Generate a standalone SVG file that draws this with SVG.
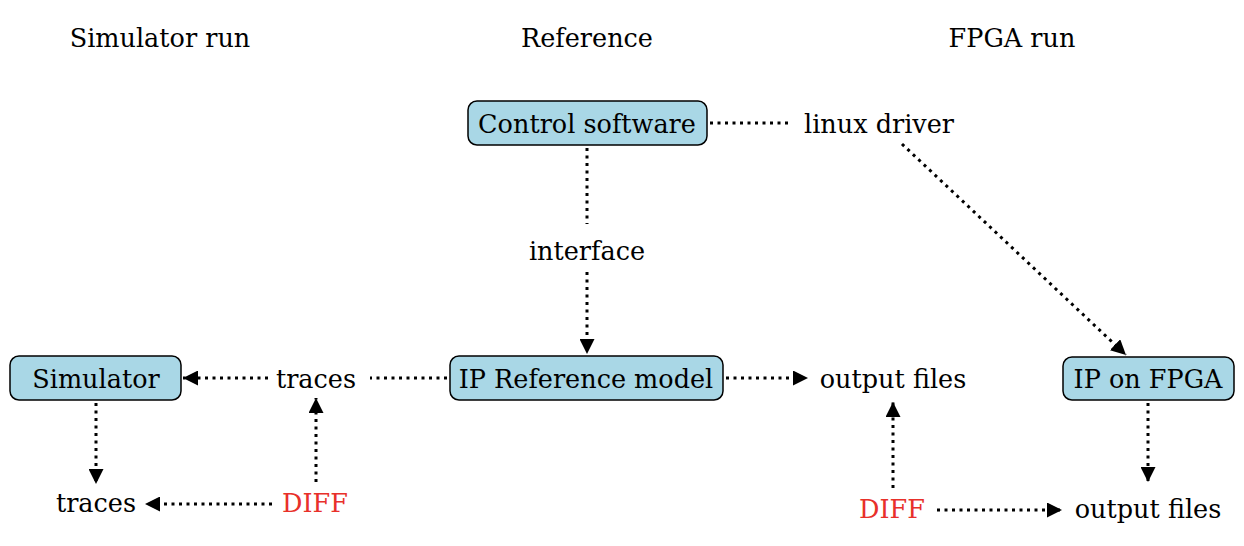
<svg xmlns="http://www.w3.org/2000/svg" width="1244" height="546" viewBox="0 0 1244 546">
<style>
text{font-family:"DejaVu Serif","Liberation Serif",serif;font-size:25.5px;fill:#000;text-anchor:middle}
.red{fill:#E8302A}
.box{fill:#A9D7E6;stroke:#000;stroke-width:1.5}
.c{fill:none;stroke:#000;stroke-width:3;stroke-dasharray:3 4.5}
</style>
<defs>
<marker id="ah" viewBox="0 0 10 10" refX="10" refY="5" markerWidth="5" markerHeight="5" orient="auto" markerUnits="strokeWidth">
<path d="M0,0 L10,5 L0,10 Z" fill="#000"/>
</marker>
</defs>
<g id="titles">
<text x="160" y="47">Simulator run</text>
<text x="587" y="47">Reference</text>
<text x="1012" y="47">FPGA run</text>
</g>
<g id="connectors">
<line class="c" x1="710" y1="123" x2="790" y2="123"/>
<line class="c" x1="587" y1="148" x2="587" y2="224"/>
<line class="c" x1="587" y1="272" x2="587" y2="354" marker-end="url(#ah)"/>
<line class="c" x1="902" y1="144" x2="1126" y2="355" marker-end="url(#ah)"/>
<line class="c" x1="726" y1="378" x2="808" y2="378" marker-end="url(#ah)"/>
<line class="c" x1="447" y1="378" x2="370" y2="378"/>
<line class="c" x1="268" y1="378" x2="183" y2="378" marker-end="url(#ah)"/>
<line class="c" x1="96" y1="403" x2="96" y2="484" marker-end="url(#ah)"/>
<line class="c" x1="316" y1="482" x2="316" y2="398" marker-end="url(#ah)"/>
<line class="c" x1="272" y1="504" x2="145" y2="504" marker-end="url(#ah)"/>
<line class="c" x1="893" y1="488" x2="893" y2="402" marker-end="url(#ah)"/>
<line class="c" x1="937" y1="510" x2="1062" y2="510" marker-end="url(#ah)"/>
<line class="c" x1="1148" y1="403" x2="1148" y2="482" marker-end="url(#ah)"/>
</g>
<g id="control-software">
<rect class="box" x="468" y="101" width="239" height="44" rx="9"/>
<text x="587" y="133">Control software</text>
</g>
<g id="linux-driver"><text x="879" y="133">linux driver</text></g>
<g id="interface"><text x="587" y="260">interface</text></g>
<g id="ip-reference-model">
<rect class="box" x="450" y="356" width="273" height="44" rx="9"/>
<text x="586" y="388">IP Reference model</text>
</g>
<g id="output-files-ref"><text x="893" y="388">output files</text></g>
<g id="traces-top"><text x="316" y="388">traces</text></g>
<g id="simulator">
<rect class="box" x="10" y="356" width="171" height="44" rx="9"/>
<text x="96" y="388">Simulator</text>
</g>
<g id="traces-bottom"><text x="96" y="512">traces</text></g>
<g id="diff-left"><text class="red" x="315" y="512">DIFF</text></g>
<g id="ip-on-fpga">
<rect class="box" x="1063" y="357" width="171" height="43" rx="9"/>
<text x="1148" y="388">IP on FPGA</text>
</g>
<g id="diff-right"><text class="red" x="892" y="518">DIFF</text></g>
<g id="output-files-fpga"><text x="1148" y="518">output files</text></g>
</svg>
